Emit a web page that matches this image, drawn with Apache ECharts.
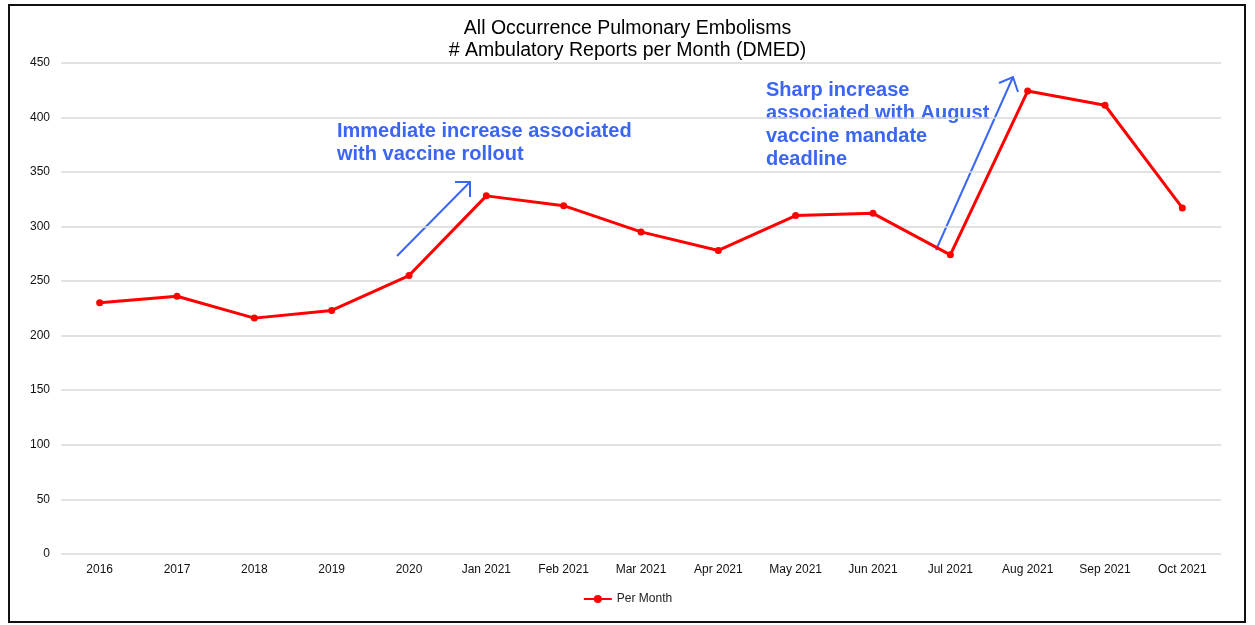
<!DOCTYPE html>
<html>
<head>
<meta charset="utf-8">
<script src="https://cdn.jsdelivr.net/npm/echarts@6/dist/echarts.min.js"></script>
<style>
html,body{margin:0;padding:0;background:#fff;}
#frame{position:absolute;left:8px;top:4px;width:1234px;height:615px;border:2px solid #111;box-sizing:content-box;}
#chart{position:absolute;left:0;top:0;width:1255px;height:625px;}
</style>
</head>
<body>
<div id="frame"></div>
<div id="chart"></div>
<script>
const categories = ["2016","2017","2018","2019","2020","Jan 2021","Feb 2021","Mar 2021","Apr 2021","May 2021","Jun 2021","Jul 2021","Aug 2021","Sep 2021","Oct 2021"];
const perMonth = [230, 236, 216, 223, 255, 328, 319, 295, 278, 310, 312, 274, 424, 411, 317];
const titleLines = ["All Occurrence Pulmonary Embolisms", "# Ambulatory Reports per Month (DMED)"];
const note1 = ["Immediate increase associated", "with vaccine rollout"];
const note2 = ["Sharp increase", "associated with August", "vaccine mandate", "deadline"];

const chart = echarts.init(document.getElementById('chart'), null, {renderer: 'canvas'});
const blue = '#3a66f2';
const FONT = 'Liberation Sans, Arial, sans-serif';

const option = {
  backgroundColor: 'transparent',
  animation: false,
  title: {
    text: titleLines.join('\n'),
    left: 'center',
    top: 13,
    textStyle: {fontFamily: FONT, fontSize: 19.5, fontWeight: 'normal', color: '#000', lineHeight: 21.6}
  },
  grid: {left: 61, right: 34, top: 62.7, bottom: 71.1, containLabel: false},
  legend: {
    bottom: 15,
    left: 'center',
    itemWidth: 28,
    itemHeight: 10,
    itemGap: 4,
    textStyle: {fontFamily: FONT, fontSize: 12, color: '#222'},
    data: ['Per Month']
  },
  xAxis: {
    type: 'category',
    data: categories,
    boundaryGap: true,
    axisLine: {show: false},
    axisTick: {show: false},
    axisLabel: {fontFamily: FONT, fontSize: 12, color: '#111', margin: 10, interval: 0}
  },
  yAxis: {
    type: 'value',
    min: 0,
    max: 450,
    interval: 50,
    axisLine: {show: false},
    axisTick: {show: false},
    axisLabel: {fontFamily: FONT, fontSize: 12, color: '#111', margin: 11},
    splitLine: {lineStyle: {color: '#d9d9d9', width: 1.5}}
  },
  series: [{
    name: 'Per Month',
    type: 'line',
    data: perMonth,
    symbol: 'circle',
    symbolSize: 7,
    lineStyle: {color: '#ff0000', width: 3},
    itemStyle: {color: '#ff0000'}
  }],
  graphic: [
    {
      type: 'text', left: 337, top: 120,
      style: {text: note1.join('\n'), font: '700 20px ' + FONT, fill: blue, lineHeight: 22.7}
    },
    {
      type: 'text', left: 766, top: 79,
      style: {text: note2.join('\n'), font: '700 20px ' + FONT, fill: blue, lineHeight: 23}
    },
    {
      type: 'polyline', shape: {points: [[397, 256], [470, 182]]},
      style: {stroke: blue, lineWidth: 2, fill: null}
    },
    {
      type: 'polyline', shape: {points: [[455, 182], [470, 182], [470, 197]]},
      style: {stroke: blue, lineWidth: 2, fill: null}
    },
    {
      type: 'polyline', shape: {points: [[936, 250], [1013, 77]]},
      style: {stroke: blue, lineWidth: 2, fill: null}
    },
    {
      type: 'polyline', shape: {points: [[999, 83], [1013, 77], [1018, 92]]},
      style: {stroke: blue, lineWidth: 2, fill: null}
    }
  ]
};
chart.setOption(option);
</script>
</body>
</html>
